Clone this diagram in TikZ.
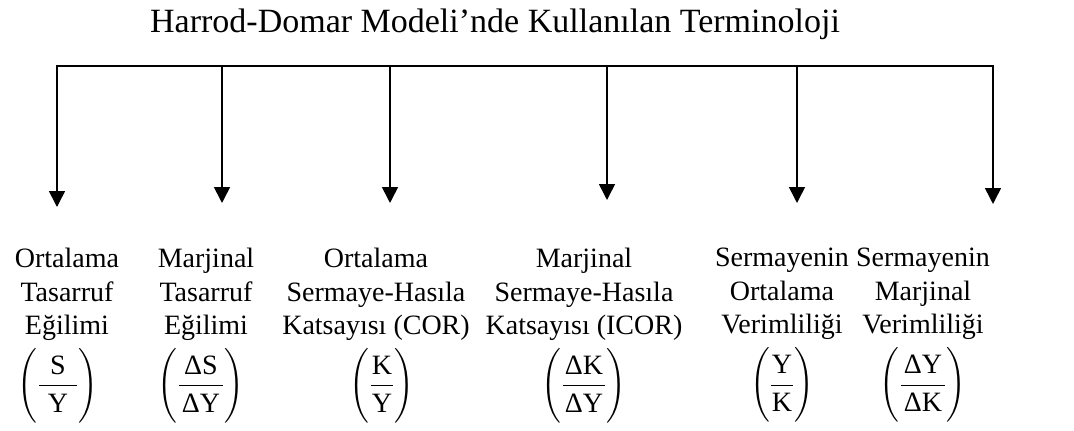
\RequirePackage{fix-cm}
\documentclass[tikz,border=0pt]{standalone}
\usepackage{amsmath}
\usepackage{fontspec}
\setmainfont{Liberation Serif}
\usetikzlibrary{arrows.meta}
\newcommand{\myratio}[3][0pt]{$\delimiterfactor=1000\delimitershortfall=0pt
  \left(\vcenter{\hbox{\rule{0pt}{70pt}}}
  \dfrac{\hspace{#1}\text{#2}\hspace{#1}}{\hspace{#1}\text{#3}\hspace{#1}}
  \right)$}
\tikzset{
  conn/.style={line width=1.6pt, black},
  bar/.style={conn, line cap=rect},
  arr/.style={conn, -{Triangle[width=16pt,length=16pt]}},
  term/.style={align=center, inner sep=0pt, anchor=north, font=\fontsize{28}{33.5}\selectfont},
  ttl/.style={inner sep=0pt, anchor=base, font=\fontsize{34}{40}\selectfont}
}
\begin{document}
\begin{tikzpicture}[x=1pt,y=-1pt]
\fill[white] (0,0) rectangle (1074,431);
\useasboundingbox (0,0) rectangle (1074,431);

\node[ttl] (title) at (495,32) {Harrod-Domar Modeli’nde Kullanılan Terminoloji};

% bar and arrow start points
\coordinate (b1) at (57,66);
\coordinate (b2) at (222,66);
\coordinate (b3) at (390,66);
\coordinate (b4) at (607,66);
\coordinate (b5) at (797,66);
\coordinate (b6) at (993,66);
% arrow tips
\coordinate (t1) at (57,207);
\coordinate (t2) at (222,203);
\coordinate (t3) at (390,203);
\coordinate (t4) at (607,200);
\coordinate (t5) at (797,203);
\coordinate (t6) at (993,204);

\draw[bar] (b1) -- (b6);
\foreach \i in {1,...,6} { \draw[arr] (b\i) -- (t\i); }

% terms with their ratios
\node[term] (n1) at (67,248) {Ortalama\\Tasarruf\\Eğilimi\\[7pt]%
  {\myratio[9pt]{S}{Y}\kern18pt}};
\node[term] (n2) at (206,248) {Marjinal\\Tasarruf\\Eğilimi\\[7pt]%
  {\myratio[3pt]{ΔS}{ΔY}\kern10pt}};
\node[term] (n3) at (376,248) {Ortalama\\Sermaye-Hasıla\\Katsayısı (COR)\\[7pt]%
  {\kern12pt\myratio[1pt]{K}{Y}}};
\node[term] (n4) at (584,248) {Marjinal\\Sermaye-Hasıla\\Katsayısı (ICOR)\\[7pt]%
  {\myratio[2pt]{ΔK}{ΔY}}};
\node[term] (n5) at (782,248) {Sermayenin\\Ortalama\\Verimliliği\\[7pt]%
  {\myratio[1pt]{Y}{K}}};
\node[term] (n6) at (923,248) {Sermayenin\\Marjinal\\Verimliliği\\[7pt]%
  {\myratio[3pt]{ΔY}{ΔK}}};
\end{tikzpicture}
\end{document}
